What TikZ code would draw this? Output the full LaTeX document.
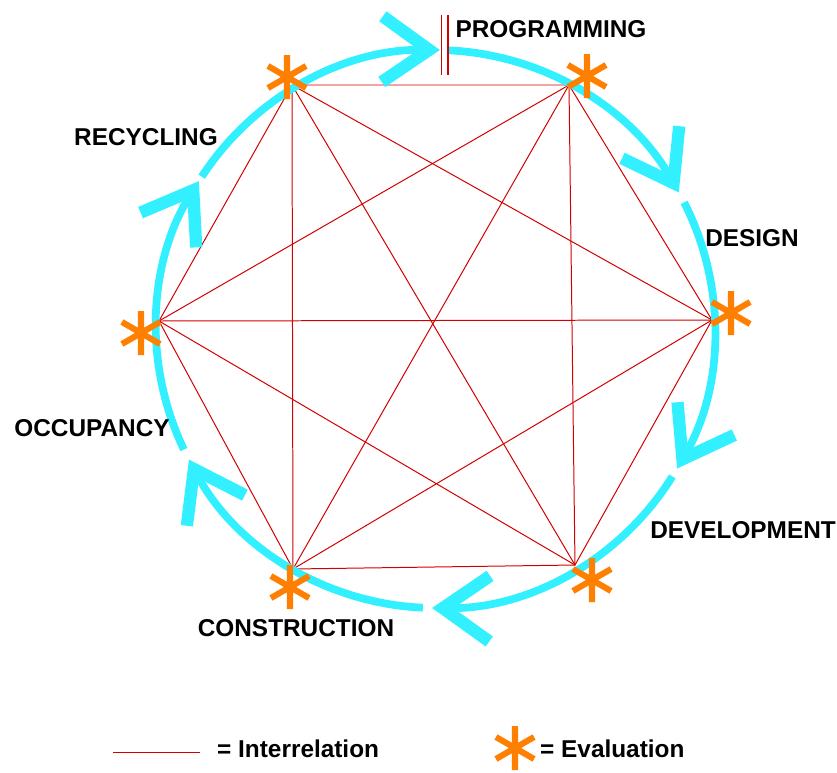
\documentclass[tikz,border=0pt]{standalone}
\usepackage{fontspec}
\setmainfont{Liberation Sans}
\usetikzlibrary{arrows.meta}
\definecolor{cyclecyan}{RGB}{50,240,255}
\definecolor{linkred}{RGB}{210,0,0}
\definecolor{evalorange}{RGB}{255,128,0}
\tikzset{
  phase/.style={draw=cyclecyan, line width=6.6pt,
    -{Straight Barb[length=40pt, width=56pt, line width=10.5pt]}},
  relation/.style={draw=linkred, line width=0.85pt},
  phaselabel/.style={font=\bfseries\fontsize{20.8}{24}\selectfont, inner sep=0pt},
  evalstar/.pic={\draw[evalorange, line width=5.2pt] (90:22) -- (270:22) (30:22) -- (210:22) (150:22) -- (330:22);}
}
\begin{document}
\begin{tikzpicture}[x=0.03cm, y=0.03cm]
\useasboundingbox (-435.5,-443) rectangle (401.5,329);
% evaluation points
\coordinate (e1) at (133.5,244);
\coordinate (e2) at (276.5,9);
\coordinate (e3) at (139.5,-236);
\coordinate (e4) at (-142.5,-240);
\coordinate (e5) at (-276.5,8);
\coordinate (e6) at (-143.5,244);
% interrelations
\draw[relation] (e1) -- (e2) -- (e3) -- (e4) -- (e5) -- (e6) -- cycle;
\draw[relation] (e1) -- (e3);
\draw[relation] (e1) -- (e4);
\draw[relation] (e1) -- (e5);
\draw[relation] (e2) -- (e4);
\draw[relation] (e2) -- (e5);
\draw[relation] (e2) -- (e6);
\draw[relation] (e3) -- (e5);
\draw[relation] (e3) -- (e6);
\draw[relation] (e4) -- (e6);
% phases
\draw[phase] (87.4:279) arc[start angle=87.4, end angle=29.3, radius=279];
\draw[phase] (27:279) arc[start angle=27, end angle=-30, radius=279];
\draw[phase] (-31.9:279) arc[start angle=-31.9, end angle=-90.7, radius=279];
\draw[phase] (-92.6:279) arc[start angle=-92.6, end angle=-152.1, radius=279];
\draw[phase] (-154.4:279) arc[start angle=-154.4, end angle=-212, radius=279];
\draw[phase] (146.9:279) arc[start angle=146.9, end angle=89.1, radius=279];
% start mark
\draw[linkred, line width=1.7pt] (6,314) -- (6,254) (12.5,314) -- (12.5,254);
% evaluations
\pic at (151.5,253) {evalstar};
\pic at (295.5,16) {evalstar};
\pic at (156.5,-251) {evalstar};
\pic at (-145.5,-258) {evalstar};
\pic at (-294.5,-4) {evalstar};
\pic at (-148.5,252) {evalstar};
% labels
\node[phaselabel] (programming) at (115.5,300) {PROGRAMMING};
\node[phaselabel] (design) at (316.5,91) {DESIGN};
\node[phaselabel] (development) at (307.5,-201) {DEVELOPMENT};
\node[phaselabel] (construction) at (-139.5,-299) {CONSTRUCTION};
\node[phaselabel] (occupancy) at (-343.5,-99) {OCCUPANCY};
\node[phaselabel] (recycling) at (-289.5,192) {RECYCLING};
% legend
\coordinate (lineA) at (-322.5,-423);
\coordinate (lineB) at (-235.5,-423);
\draw[relation] (lineA) -- (lineB);
\node[phaselabel, anchor=west] (interrelation) at (-218.5,-420) {= Interrelation};
\pic at (79.5,-419) {evalstar};
\node[phaselabel, anchor=west] (evaluation) at (104.5,-420) {= Evaluation};
\end{tikzpicture}
\end{document}
